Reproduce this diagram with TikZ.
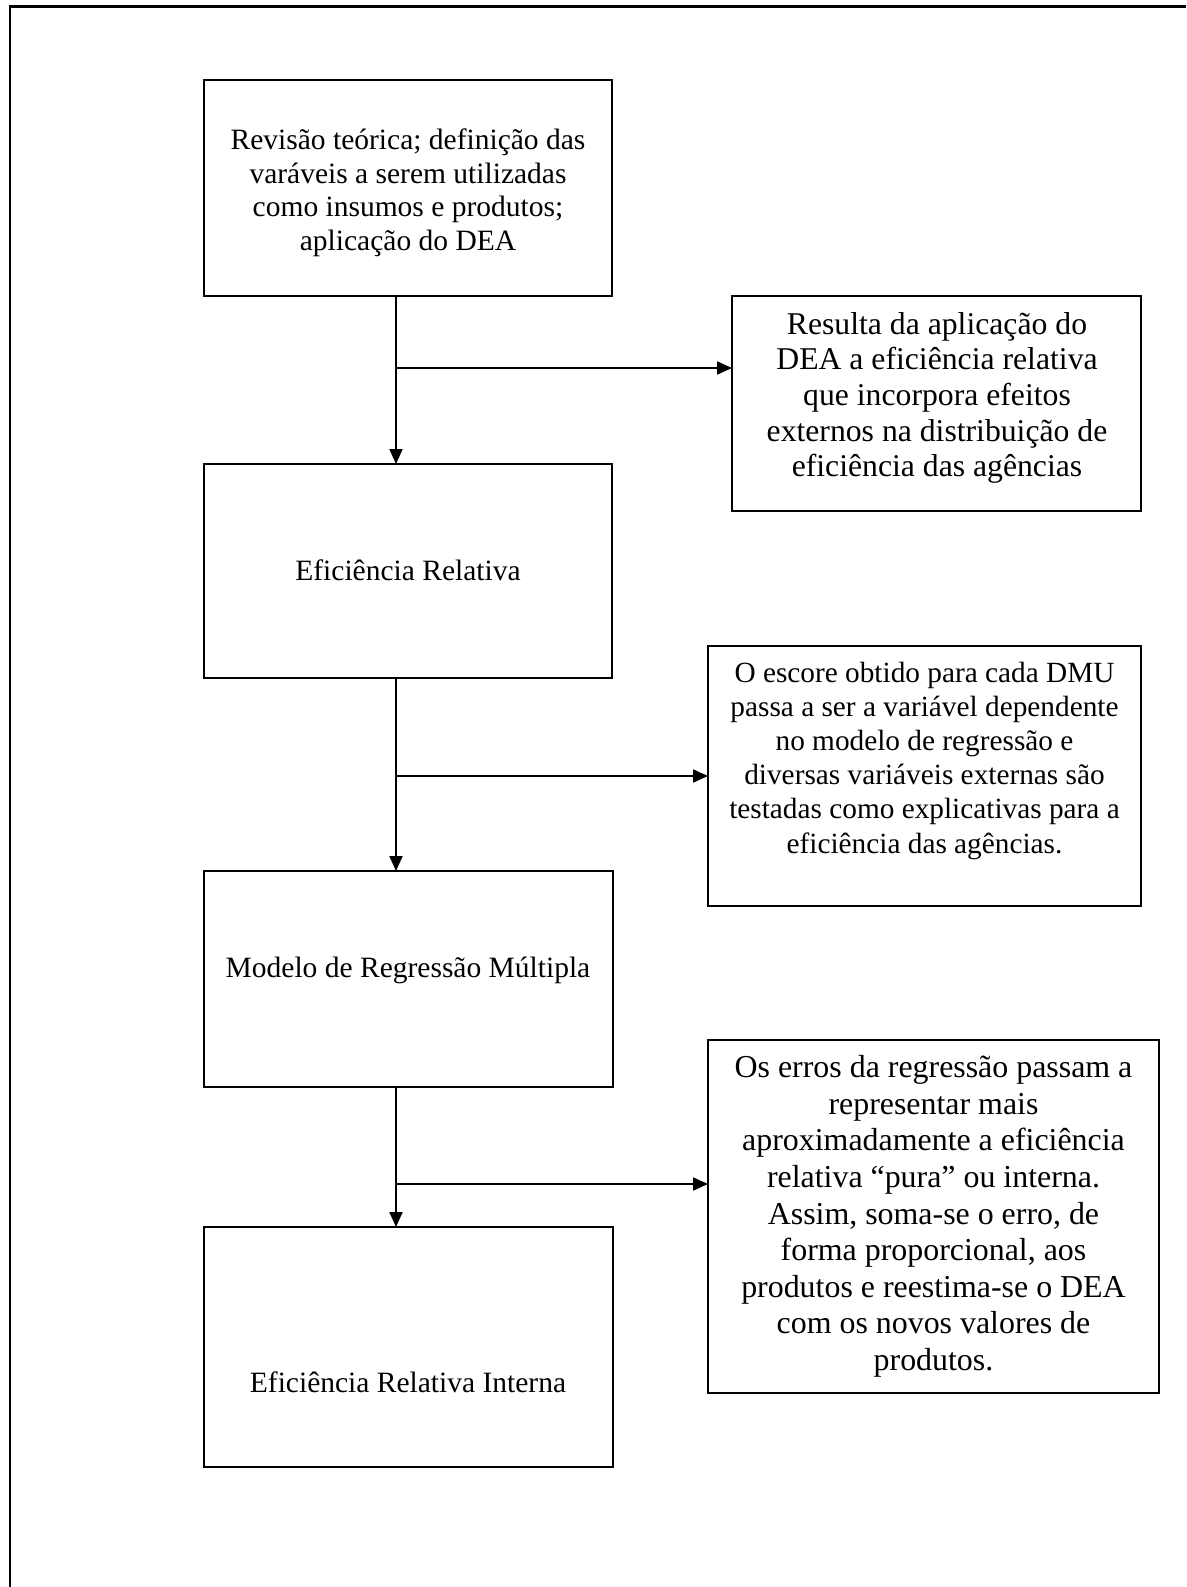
\documentclass[tikz,border=0pt]{standalone}
\usepackage{fontspec}
\setmainfont{Liberation Serif}
\usetikzlibrary{arrows.meta}
\begin{document}
\begin{tikzpicture}[x=1pt,y=-1pt,
  box/.style={draw=black, line width=2pt, rectangle, inner sep=0pt, outer sep=0pt},
  txt/.style={inner sep=0pt, align=center, text=black},
  lt/.style={txt, font=\fontsize{29.5}{33.5}\selectfont},
  arr/.style={line width=2pt, -{Triangle[length=15pt,width=13pt]}},
  frame/.style={line width=2.5pt}]
\useasboundingbox (0,0) rectangle (1186,1587);
\fill[white] (0,0) rectangle (1186,1587);
\draw[frame] (10,1587) -- (10,6.5) -- (1186,6.5);

% left column boxes
\node[box, minimum width=408pt, minimum height=216pt] (b1) at (408,188) {};
\node[box, minimum width=408pt, minimum height=214pt] (b2) at (408,571) {};
\node[box, minimum width=409pt, minimum height=216pt] (b3) at (408.5,979) {};
\node[box, minimum width=409pt, minimum height=240pt] (b4) at (408.5,1347) {};

% right column boxes
\node[box, minimum width=409pt, minimum height=215pt] (r1) at (936.5,403.5) {};
\node[box, minimum width=433pt, minimum height=260pt] (r2) at (924.5,776) {};
\node[box, minimum width=451pt, minimum height=353pt] (r3) at (933.5,1216.5) {};

% texts
\node[lt] (t1) at (408,193) {Revisão teórica; definição das\\varáveis a serem utilizadas\\como insumos e produtos;\\aplicação do DEA};
\node[lt, anchor=base] (t2) at (408,580) {Eficiência Relativa};
\node[lt, anchor=base] (t3) at (408,977) {Modelo de Regressão Múltipla};
\node[lt, anchor=base] (t4) at (408,1392) {Eficiência Relativa Interna};

\node[txt, font=\fontsize{31.7}{35.7}\selectfont] (s1) at (937,398) {Resulta da aplicação do\\DEA a eficiência relativa\\que incorpora efeitos\\externos na distribuição de\\eficiência das agências};
\node[txt, font=\fontsize{29.3}{34.2}\selectfont] (s2) at (924.5,760.5) {O escore obtido para cada DMU\\passa a ser a variável dependente\\no modelo de regressão e\\diversas variáveis externas são\\testadas como explicativas para a\\eficiência das agências.};
\node[txt, font=\fontsize{31.9}{36.6}\selectfont] (s3) at (933.5,1216.5) {Os erros da regressão passam a\\representar mais\\aproximadamente a eficiência\\relativa “pura” ou interna.\\Assim, soma-se o erro, de\\forma proporcional, aos\\produtos e reestima-se o DEA\\com os novos valores de\\produtos.};

% connectors
\coordinate (cx) at (396,0);
\coordinate (j1) at (396,368);
\coordinate (j2) at (396,776);
\coordinate (j3) at (396,1184);
\draw[arr] (b1.south -| cx) -- (b2.north -| cx);
\draw[arr] (b2.south -| cx) -- (b3.north -| cx);
\draw[arr] (b3.south -| cx) -- (b4.north -| cx);
\draw[arr] (j1) -- (j1 -| r1.west);
\draw[arr] (j2) -- (j2 -| r2.west);
\draw[arr] (j3) -- (j3 -| r3.west);
\end{tikzpicture}
\end{document}
